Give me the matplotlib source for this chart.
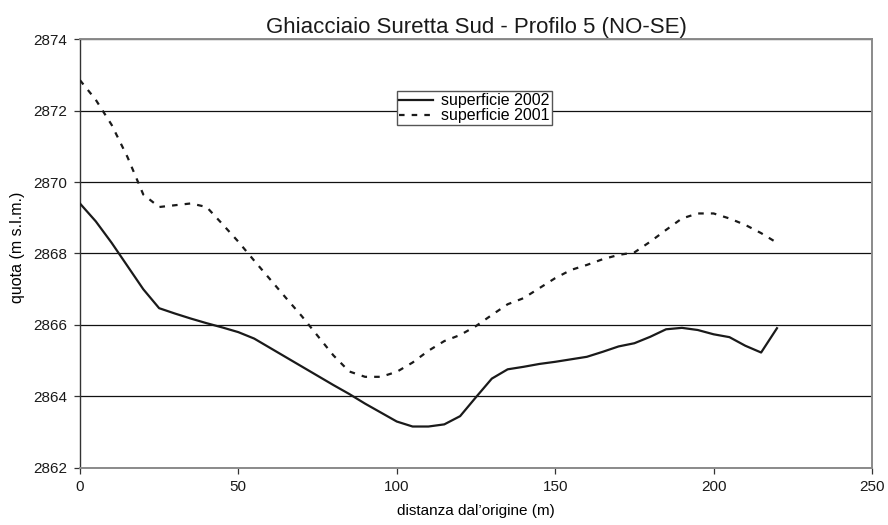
"""
Ghiacciaio Suretta Sud - profilo 5: confronto superficie 2001 / 2002.
"""

import matplotlib

matplotlib.use("Agg")
import matplotlib.pyplot as plt

plt.rcParams["font.family"] = ["Liberation Sans", "DejaVu Sans"]

# distanza dall'origine (m), un punto ogni 5 m
distanza = [0, 5, 10, 15, 20, 25, 30, 35, 40, 45, 50, 55, 60, 65, 70, 75, 80,
            85, 90, 95, 100, 105, 110, 115, 120, 125, 130, 135, 140, 145, 150,
            155, 160, 165, 170, 175, 180, 185, 190, 195, 200, 205, 210, 215, 220]

quota_2002 = [2869.40, 2868.90, 2868.30, 2867.65, 2867.00, 2866.47, 2866.32,
              2866.18, 2866.05, 2865.93, 2865.80, 2865.62, 2865.36, 2865.10,
              2864.84, 2864.58, 2864.32, 2864.07, 2863.80, 2863.55, 2863.30,
              2863.16, 2863.16, 2863.22, 2863.45, 2863.98, 2864.50, 2864.76,
              2864.83, 2864.91, 2864.97, 2865.04, 2865.11, 2865.25, 2865.40,
              2865.49, 2865.67, 2865.88, 2865.92, 2865.86, 2865.74, 2865.66,
              2865.42, 2865.23, 2865.91]

quota_2001 = [2872.85, 2872.30, 2871.60, 2870.70, 2869.65, 2869.30, 2869.35,
              2869.40, 2869.30, 2868.82, 2868.33, 2867.80, 2867.28, 2866.76,
              2866.25, 2865.70, 2865.15, 2864.70, 2864.55, 2864.55, 2864.69,
              2864.95, 2865.28, 2865.55, 2865.72, 2865.97, 2866.28, 2866.58,
              2866.75, 2867.03, 2867.31, 2867.54, 2867.68, 2867.84, 2867.96,
              2868.03, 2868.33, 2868.66, 2868.98, 2869.12, 2869.12, 2868.98,
              2868.80, 2868.57, 2868.30]

x_ticks = [0, 50, 100, 150, 200, 250]
y_ticks = [2862, 2864, 2866, 2868, 2870, 2872, 2874]

fig = plt.figure(figsize=(8.88, 5.25), dpi=100)
ax = fig.add_axes([0.090, 0.1086, 0.892, 0.8171])

ax.plot(distanza, quota_2002, color="#1a1a1a", lw=1.6,
        label="superficie 2002", zorder=3)
ax.plot(distanza, quota_2001, color="#1a1a1a", lw=1.6, dashes=(2.5, 3.2),
        label="superficie 2001", zorder=3)

ax.set_xlim(0, 250)
ax.set_ylim(2862, 2874)
ax.set_xticks(x_ticks)
ax.set_yticks(y_ticks)
ax.set_xticklabels([str(v) for v in x_ticks])
ax.set_yticklabels([str(v) for v in y_ticks])
ax.tick_params(labelsize=11, length=4, width=0.9, color="#333333",
               colors="#1a1a1a", pad=5)
ax.tick_params(axis="both", color="#333333")
ax.yaxis.grid(True, color="#111111", lw=0.9)
ax.set_axisbelow(True)

for side in ["top", "right", "bottom"]:
    ax.spines[side].set_color("#8a8a8a")
    ax.spines[side].set_linewidth(1.4)
ax.spines["left"].set_color("#333333")
ax.spines["left"].set_linewidth(1.0)

ax.set_xlabel("distanza dal’origine (m)", fontsize=11, labelpad=7)
ax.set_ylabel("quota (m s.l.m.)", fontsize=11.5)
ax.yaxis.set_label_coords(-0.079, 0.515)
ax.yaxis.label.set_verticalalignment("center")
ax.set_title("Ghiacciaio Suretta Sud - Profilo 5 (NO-SE)", fontsize=16,
             pad=4, color="#1a1a1a")

leg = ax.legend(loc="upper left", bbox_to_anchor=(0.4003, 0.8795),
                fontsize=11.5, frameon=True, fancybox=False, framealpha=1,
                edgecolor="#555555", borderpad=0.15, labelspacing=0.0,
                handlelength=2.1, handletextpad=0.5, borderaxespad=0)
leg.get_frame().set_linewidth(1.0)
leg.set_zorder(5)

fig.savefig("out.png", dpi=100)
